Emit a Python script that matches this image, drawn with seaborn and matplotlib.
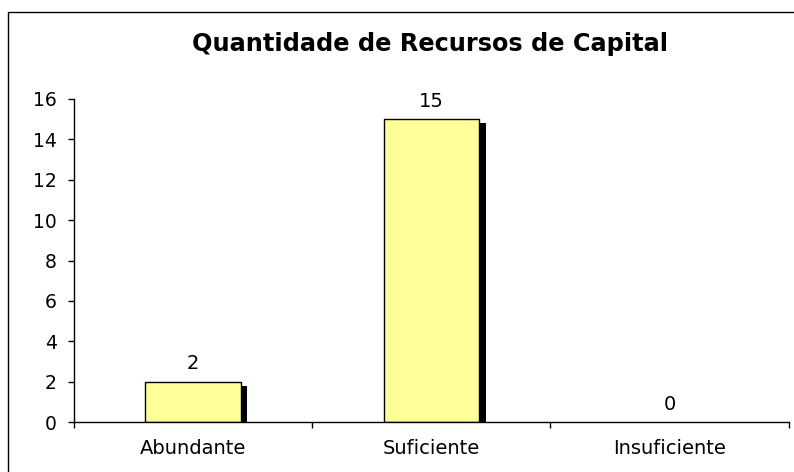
import matplotlib
matplotlib.use("Agg")
import matplotlib.pyplot as plt
import matplotlib.patheffects as pe
from matplotlib.patches import Rectangle
import seaborn as sns
import pandas as pd

# Data
categories = ["Abundante", "Suficiente", "Insuficiente"]
counts = [2, 15, 0]
title = "Quantidade de Recursos de Capital"
yticks = [0, 2, 4, 6, 8, 10, 12, 14, 16]

df = pd.DataFrame({"Categoria": categories, "Quantidade": counts})

sns.set_style("white")
plt.rcParams["font.family"] = ["DejaVu Sans"]
plt.rcParams["text.color"] = "black"
plt.rcParams["xtick.color"] = "black"
plt.rcParams["ytick.color"] = "black"

fig = plt.figure(figsize=(7.94, 4.72), dpi=100)
ax = fig.add_axes([74 / 794, 1 - 422 / 472, (788.5 - 74) / 794, (422 - 99) / 472])

sns.barplot(data=df, x="Categoria", y="Quantidade", color="#FFFF99",
            edgecolor="black", linewidth=1, width=0.4, saturation=1, ax=ax)

# drop shadow like the old Excel bars
for bar, v in zip(ax.patches, counts):
    if v == 0:
        bar.set_visible(False)
        continue
    bar.set_path_effects([
        pe.SimplePatchShadow(offset=(4.8, -3), shadow_rgbFace="black", alpha=1),
        pe.Normal(),
    ])

ax.bar_label(ax.containers[0], labels=[str(v) for v in counts], padding=6, fontsize=14)

ax.set_xlim(-0.5, 2.5)
ax.set_ylim(0, 16)
ax.set_yticks(yticks)
ax.set_xlabel("")
ax.set_ylabel("")

# ticks between the categories on x
ax.set_xticks([-0.5, 0.5, 1.5, 2.5], minor=True)
ax.tick_params(axis="x", which="major", length=0, pad=12, labelsize=14)
ax.tick_params(axis="x", which="minor", direction="out", length=4, width=1, color="black", bottom=True)
ax.tick_params(axis="y", direction="out", length=4.5, width=1, color="black", left=True, labelsize=13.5, pad=8)

sns.despine(ax=ax, top=True, right=True)
for s in ["left", "bottom"]:
    ax.spines[s].set_color("black")
    ax.spines[s].set_linewidth(1)

fig.text(430 / 794, 1 - 44 / 472, title, ha="center", va="center",
         fontsize=17.3, fontweight="bold")

# chart area border
fig.patches.append(Rectangle((8 / 794, -0.05), 1.1, 1 - 12 / 472 + 0.05,
                             transform=fig.transFigure, fill=False,
                             edgecolor="black", linewidth=1))

plt.savefig("out.png", dpi=100)
